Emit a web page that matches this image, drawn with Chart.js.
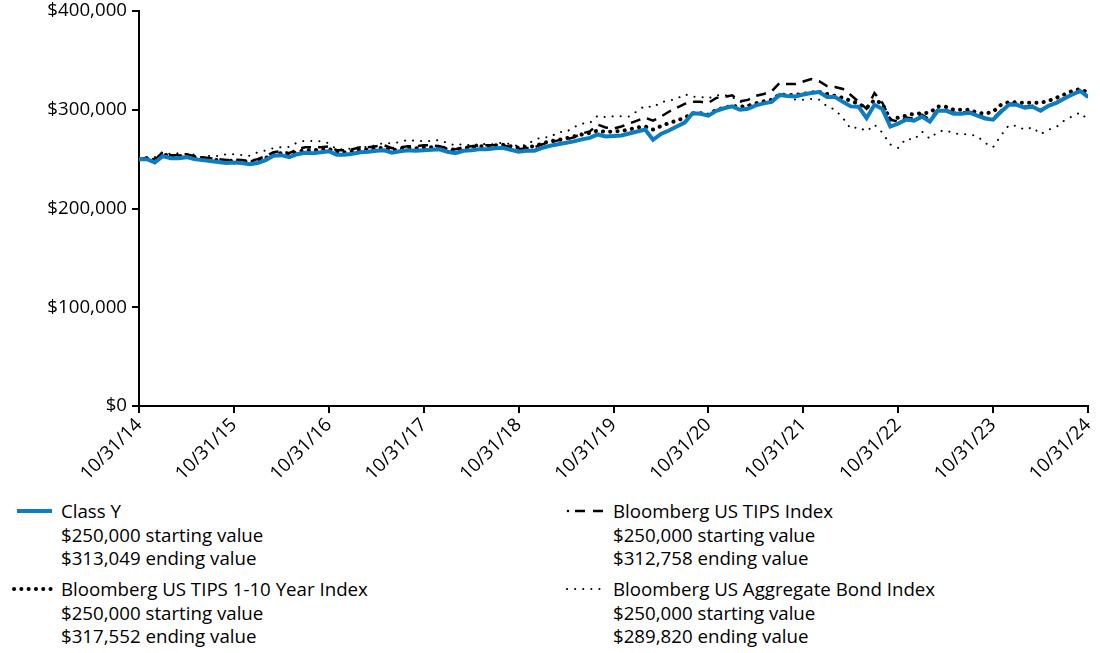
<!DOCTYPE html>
<html>
<head>
<meta charset="utf-8">
<script src="https://cdn.jsdelivr.net/npm/chart.js@4.4.1/dist/chart.umd.min.js"></script>
<style>
  body { margin: 0; background: #fff; font-family: "Open Sans", sans-serif; color: #000; }
  #wrap { position: relative; width: 1100px; height: 653px; overflow: hidden; }
  #chartBox { position: absolute; left: 0; top: 0; width: 1100px; height: 480px; }
  .entry { position: absolute; font-size: 18.7px; line-height: 23.5px; white-space: nowrap; }
  .entry svg { position: absolute; top: 0; }
</style>
</head>
<body>
<div id="wrap">
  <div id="chartBox"><canvas id="growthChart"></canvas></div>

  <div class="entry" style="left:61px; top:499px">
    <svg style="left:-46px" width="42" height="24">
      <line x1="2" y1="12" x2="37" y2="12" stroke="#0d7dc2" stroke-width="4"/>
    </svg>
    Class Y<br>$250,000 starting value<br>$313,049 ending value
  </div>
  <div class="entry" style="left:61px; top:577px">
    <svg style="left:-49px" width="44" height="24">
      <line x1="2" y1="12" x2="40" y2="12" stroke="#000" stroke-width="4"
            stroke-linecap="round" stroke-dasharray="0.1 7.2"/>
    </svg>
    Bloomberg US TIPS 1-10 Year Index<br>$250,000 starting value<br>$317,552 ending value
  </div>
  <div class="entry" style="left:613px; top:499px">
    <svg style="left:-48px" width="44" height="24">
      <circle cx="3" cy="12" r="1.3" fill="#000"/>
      <line x1="10" y1="12" x2="20" y2="12" stroke="#000" stroke-width="2.5"/>
      <line x1="28" y1="12" x2="38" y2="12" stroke="#000" stroke-width="2.5"/>
    </svg>
    Bloomberg US TIPS Index<br>$250,000 starting value<br>$312,758 ending value
  </div>
  <div class="entry" style="left:613px; top:577px">
    <svg style="left:-48px" width="44" height="24">
      <line x1="2" y1="12" x2="42" y2="12" stroke="#000" stroke-width="2"
            stroke-linecap="round" stroke-dasharray="0.1 8"/>
    </svg>
    Bloomberg US Aggregate Bond Index<br>$250,000 starting value<br>$289,820 ending value
  </div>
</div>

<script>
// Growth of $250,000, month-end values in $ thousands, 10/31/14 .. 10/31/24
const tickLabels = ["10/31/14", "10/31/15", "10/31/16", "10/31/17", "10/31/18", "10/31/19",
  "10/31/20", "10/31/21", "10/31/22", "10/31/23", "10/31/24"];

const classY = [
  250, 250, 246.6, 253, 251, 251, 252, 250, 249, 248, 247, 246, 246.5,
  246, 244.8, 246, 249, 253.5, 254, 252, 255, 256.5, 256, 257, 258,
  254.5, 254.5, 255.5, 257, 257.5, 258.5, 259, 256.5, 258, 259, 258.5, 259,
  259.5, 260, 257.5, 256, 258.5, 259, 260, 260, 261, 261.5, 259.5, 257.5,
  258.5, 258.5, 261.5, 263.5, 265, 266.5, 268, 270, 271.5, 275, 273, 273.5,
  274, 276, 278, 280, 269.6, 275.5, 279, 283, 287, 296.5, 296, 294,
  299, 301.5, 303.4, 300, 301, 304.5, 306.5, 308, 315, 314, 313.5, 315.5,
  317, 318, 313, 313, 308, 303.4, 303, 291.6, 305, 300.7, 283, 286,
  290, 289, 293, 288, 299, 299, 296, 296, 297, 294, 291, 290,
  298, 305, 305, 302, 303, 299, 304, 307, 311.5, 315.5, 319, 313.049,
];

const tipsIndex = [
  250, 251, 249, 257, 254, 254, 255, 253, 252, 251, 250, 249, 249.5,
  249, 248, 250, 253, 257, 258, 256, 260, 262, 262, 262, 263,
  259, 259, 260, 262, 262, 263, 264, 261, 262, 263, 263, 264,
  264, 263, 261, 260, 262, 263, 264, 264, 264, 264, 262, 260,
  261, 262, 265, 267, 269, 270, 272, 276, 278, 285, 282, 281,
  283, 286, 289, 292, 289, 293, 298, 302, 306, 308, 308, 307,
  312, 313, 314.6, 308.5, 310, 314, 316, 318.6, 327, 326, 326, 328.6,
  331, 329, 324, 323, 321, 315, 308, 301, 317, 307, 290, 288,
  292, 291, 295, 290, 300, 300, 297, 297, 298, 295, 292, 291,
  299, 306, 306, 303, 304, 300, 304, 307, 311, 315, 318.5, 312.758,
];

const tips1to10 = [
  250, 251, 249, 255, 253, 253, 254, 252, 251, 250, 249, 248, 248.5,
  248, 247, 248.5, 251, 255, 256, 254.5, 257.5, 259, 259, 259.5, 260.5,
  257, 257, 258, 259.5, 260, 261, 261.5, 259, 260.5, 261.5, 261, 261.5,
  262, 262.5, 260, 259, 261, 262, 263, 263, 264, 264.5, 263, 261.5,
  262.5, 263, 266, 268, 269.5, 271, 273, 275, 276.5, 279, 277.5, 278,
  278.5, 280, 282, 283, 280, 283.5, 286.5, 289, 292, 296.5, 296.5, 295,
  300, 302, 304, 303, 304, 306.5, 308.5, 310, 315.5, 315, 315, 316,
  317.5, 318, 316, 314, 312, 309, 306, 301.7, 310, 306, 290, 292,
  294, 296, 296.5, 297, 303.4, 303, 300, 300, 300, 297, 296, 298,
  305, 307.8, 307.5, 307, 307, 307, 309, 312, 315.5, 319, 321, 317.552,
];

const aggBond = [
  250, 251.8, 252, 257.3, 254.9, 256, 255.1, 254.5, 251.7, 253.5, 253.1, 254.8, 254.9,
  254.2, 253.4, 256.9, 258.7, 261.1, 262.1, 262.2, 266.9, 268.6, 268.3, 268.1, 266.1,
  259.8, 260.2, 260.7, 262.4, 262.3, 264.3, 266.3, 266.1, 267.2, 269.6, 268.3, 268.5,
  268.2, 269.4, 266.3, 263.8, 265.5, 263.5, 265.4, 265.1, 265.1, 266.8, 265.1, 263,
  264.6, 269.5, 272.3, 272.2, 277.4, 277.5, 282.4, 285.9, 286.6, 294, 292.5, 293.4,
  293.3, 293.1, 298.7, 304.1, 302.3, 307.7, 309.1, 311.1, 315.7, 313.1, 313, 311.6,
  314.7, 315.1, 312.8, 308.3, 304.5, 306.9, 307.9, 310.1, 313.5, 312.9, 310.2, 310.1,
  311, 310.2, 303.5, 300.1, 291.8, 280.7, 282.5, 278.1, 284.9, 276.8, 264.8, 261.4,
  270.8, 269.6, 277.9, 270.7, 277.6, 279.3, 276.2, 275.2, 275, 273.3, 266.3, 262.1,
  274, 284.5, 283.7, 279.7, 282.3, 275.2, 279.8, 282.5, 289.1, 293.3, 297.2, 289.82,
];

const months = classY.map((_, i) => i);   // month index 0..120 on a linear axis
const toUsd = (arr) => arr.map((v) => Math.round(v * 1000));
const fmtUsd = (v) => "$" + v.toLocaleString("en-US");

const tickFont = { family: "Open Sans", size: 18.7 };

new Chart(document.getElementById("growthChart"), {
  type: "line",
  data: {
    labels: months,
    datasets: [
      { label: "Class Y", data: toUsd(classY), borderColor: "#0d7dc2", borderWidth: 4 },
      { label: "Bloomberg US TIPS 1-10 Year Index", data: toUsd(tips1to10), borderColor: "#000",
        borderWidth: 4, borderDash: [0.1, 7.2], borderCapStyle: "round" },
      { label: "Bloomberg US TIPS Index", data: toUsd(tipsIndex), borderColor: "#000",
        borderWidth: 2.5, borderDash: [10, 7] },
      { label: "Bloomberg US Aggregate Bond Index", data: toUsd(aggBond), borderColor: "#000",
        borderWidth: 2, borderDash: [0.1, 8], borderCapStyle: "round" },
    ],
  },
  options: {
    responsive: true,
    maintainAspectRatio: false,
    animation: false,
    layout: { padding: { top: 11, right: 12, left: 0, bottom: 0 } },
    plugins: { legend: { display: false }, tooltip: { enabled: false } },
    elements: { point: { radius: 0 }, line: { tension: 0, fill: false } },
    scales: {
      x: {
        type: "linear", min: 0, max: 120,
        afterFit: (s) => { s.height = 74; s.paddingLeft = 0; s.paddingRight = 0; },
        afterBuildTicks: (s) => { s.ticks = tickLabels.map((_, i) => ({ value: i * 12 })); },
        grid: { drawOnChartArea: false, color: "#000", lineWidth: 2, tickLength: 7 },
        border: { color: "#000", width: 2 },
        ticks: {
          autoSkip: false, minRotation: 45, maxRotation: 45, padding: 1,
          color: "#000", font: tickFont,
          callback: (v) => tickLabels[Math.round(v / 12)],
        },
      },
      y: {
        min: 0, max: 400000,
        afterFit: (s) => { s.width = 139; s.paddingTop = 0; s.paddingBottom = 0; },
        grid: { drawOnChartArea: false, color: "#000", lineWidth: 2, tickLength: 7 },
        border: { color: "#000", width: 2 },
        ticks: { stepSize: 100000, padding: 5, color: "#000", font: tickFont, callback: fmtUsd },
      },
    },
  },
});
</script>
</body>
</html>
